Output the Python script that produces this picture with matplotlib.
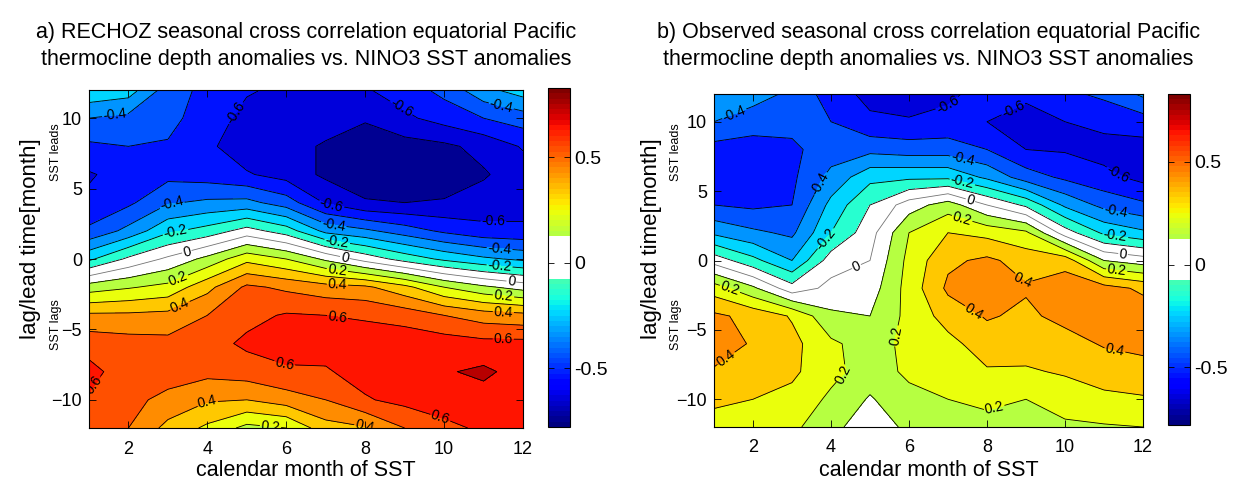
import numpy as np
import matplotlib
matplotlib.use('Agg')
import matplotlib.pyplot as plt
from matplotlib.colors import ListedColormap, Normalize
from matplotlib.cm import ScalarMappable

plt.rcParams['font.family'] = ['Liberation Sans', 'DejaVu Sans']
plt.rcParams['contour.negative_linestyle'] = 'solid'

months = np.arange(1, 13)
lags = np.array([12, 10, 8, 6, 4, 2, 0, -2, -4, -6, -8, -10, -12])

# rows follow lags, columns follow months 1..12
corr_rechoz = [
    [-0.22, -0.25, -0.45, -0.53, -0.59, -0.62, -0.63, -0.61, -0.55, -0.47, -0.33, -0.25],
    [-0.40, -0.43, -0.47, -0.55, -0.63, -0.65, -0.66, -0.69, -0.62, -0.56, -0.50, -0.45],
    [-0.52, -0.50, -0.51, -0.58, -0.66, -0.67, -0.71, -0.75, -0.74, -0.72, -0.67, -0.59],
    [-0.61, -0.56, -0.53, -0.55, -0.59, -0.64, -0.72, -0.76, -0.77, -0.76, -0.71, -0.65],
    [-0.58, -0.52, -0.41, -0.38, -0.37, -0.45, -0.61, -0.69, -0.70, -0.69, -0.66, -0.64],
    [-0.48, -0.37, -0.22, -0.16, -0.06, -0.15, -0.33, -0.38, -0.45, -0.52, -0.57, -0.58],
    [-0.22, -0.08, 0.02, 0.13, 0.27, 0.20, 0.08, -0.04, -0.14, -0.22, -0.28, -0.32],
    [0.15, 0.19, 0.23, 0.37, 0.52, 0.48, 0.44, 0.42, 0.33, 0.20, 0.12, 0.06],
    [0.42, 0.42, 0.43, 0.50, 0.57, 0.61, 0.60, 0.59, 0.56, 0.50, 0.45, 0.43],
    [0.56, 0.54, 0.53, 0.56, 0.62, 0.63, 0.64, 0.64, 0.66, 0.65, 0.63, 0.63],
    [0.63, 0.55, 0.55, 0.53, 0.55, 0.59, 0.59, 0.64, 0.66, 0.69, 0.72, 0.66],
    [0.59, 0.53, 0.47, 0.41, 0.40, 0.45, 0.50, 0.59, 0.63, 0.66, 0.66, 0.64],
    [0.55, 0.50, 0.37, 0.28, 0.17, 0.20, 0.36, 0.39, 0.50, 0.57, 0.62, 0.62],
]

corr_observed = [
    [-0.35, -0.36, -0.42, -0.55, -0.63, -0.65, -0.62, -0.56, -0.57, -0.52, -0.48, -0.38],
    [-0.40, -0.45, -0.47, -0.50, -0.58, -0.59, -0.57, -0.60, -0.66, -0.60, -0.57, -0.55],
    [-0.54, -0.55, -0.52, -0.45, -0.43, -0.45, -0.45, -0.50, -0.60, -0.61, -0.64, -0.64],
    [-0.56, -0.56, -0.52, -0.37, -0.23, -0.22, -0.22, -0.32, -0.45, -0.52, -0.57, -0.63],
    [-0.50, -0.52, -0.50, -0.27, -0.10, 0.05, 0.15, 0.00, -0.12, -0.32, -0.43, -0.48],
    [-0.32, -0.38, -0.42, -0.20, -0.04, 0.20, 0.30, 0.27, 0.22, -0.05, -0.22, -0.28],
    [-0.04, -0.17, -0.30, -0.05, 0.00, 0.23, 0.38, 0.42, 0.36, 0.36, 0.10, 0.05],
    [0.25, 0.12, -0.06, 0.03, 0.05, 0.24, 0.42, 0.46, 0.41, 0.46, 0.44, 0.38],
    [0.42, 0.37, 0.29, 0.12, 0.10, 0.23, 0.34, 0.41, 0.38, 0.43, 0.47, 0.46],
    [0.45, 0.39, 0.33, 0.22, 0.15, 0.23, 0.27, 0.35, 0.34, 0.36, 0.41, 0.43],
    [0.39, 0.36, 0.32, 0.23, 0.15, 0.22, 0.24, 0.29, 0.29, 0.31, 0.34, 0.36],
    [0.32, 0.30, 0.27, 0.18, 0.09, 0.17, 0.20, 0.22, 0.20, 0.25, 0.28, 0.29],
    [0.26, 0.25, 0.22, 0.14, 0.02, 0.13, 0.17, 0.17, 0.17, 0.18, 0.19, 0.20],
]

levels = np.round(np.linspace(-0.8, 0.8, 17), 2)
label_levels = np.round(np.linspace(-0.6, 0.6, 7), 2)
plain_levels = np.array([v for v in levels if not np.any(np.isclose(v, label_levels))])
titles = [
    'a) RECHOZ seasonal cross correlation equatorial Pacific\nthermocline depth anomalies vs. NINO3 SST anomalies',
    'b) Observed seasonal cross correlation equatorial Pacific\nthermocline depth anomalies vs. NINO3 SST anomalies',
]

# rough spots (month, lag) where the matlab figure put its inline labels
label_spots = [
    [(1.7, 9.2), (4.9, 10.0), (8.8, 10.2), (11.4, 10.3), (3.1, 3.8), (7.15, 3.95),
     (11.25, 2.3), (3.2, 1.8), (7.2, 2.4), (7.3, 1.4), (3.5, 0.3), (7.5, 0.35),
     (11.4, 0.5), (11.4, -0.7), (11.7, -1.7), (3.3, -1.7), (7.3, -0.65),
     (7.3, -1.7), (11.5, -2.8), (11.5, -3.9), (3.35, -3.6), (7.3, -4.1),
     (11.5, -5.6), (5.9, -7.9), (1.2, -9.1), (4.0, -10.1), (9.9, -11.3),
     (8.0, -11.7), (5.6, -11.9)],
    [(1.6, 10.0), (7.1, 10.75), (8.7, 10.75), (3.7, 5.6), (7.35, 7.0), (11.3, 6.0),
     (7.35, 5.45), (7.55, 4.1), (7.35, 2.9), (3.9, 1.5), (11.3, 3.5), (11.3, 2.0),
     (11.5, 0.75), (11.35, -0.1), (4.75, -1.05), (1.4, -2.1), (8.75, -2.0),
     (7.6, -3.95), (5.6, -5.4), (11.3, -6.2), (1.35, -7.2), (4.3, -8.15),
     (8.25, -11.3)],
]

# jet with the band around zero blanked out, like the matlab figure
jet = plt.get_cmap('jet', 64)
cols = jet(np.arange(64))
cols[28:36] = [1, 1, 1, 1]
cmap = ListedColormap(cols)


def fmt(v):
    if abs(v) < 1e-9:
        return '0'
    return '%g' % v


fig = plt.figure(figsize=(12.37, 4.87), dpi=100)

W, H = 1237.0, 487.0
boxes = [(89, 90, 523, 428), (714, 94, 1143, 427)]
cboxes = [(548, 88, 570, 427), (1168, 94, 1190, 425)]
ylab_x = [31, 651]
side_x = [56, 676]

for i, data in enumerate([corr_rechoz, corr_observed]):
    norm = Normalize(vmin=-0.78, vmax=0.83)
    l, t, r, b = boxes[i]
    ax = fig.add_axes([l / W, 1 - b / H, (r - l) / W, (b - t) / H])
    Z = np.array(data)
    ax.contourf(months, lags, Z, levels=levels, cmap=cmap, norm=norm)
    ax.contour(months, lags, Z, levels=plain_levels, colors='k', linewidths=0.6,
               linestyles='solid')
    lc = ['0.45' if abs(v) < 1e-9 else 'k' for v in label_levels]
    cs = ax.contour(months, lags, Z, levels=label_levels, colors=lc, linewidths=0.6,
                    linestyles='solid')
    ax.clabel(cs, fmt=fmt, fontsize=10, inline=True, inline_spacing=1,
              colors='k', manual=label_spots[i])
    ax.set_xlim(1, 12)
    ax.set_ylim(-12, 12)
    ax.set_xticks(np.arange(2, 13, 2))
    ax.set_yticks([-10, -5, 0, 5, 10])
    ax.tick_params(direction='in', top=True, right=True, length=5, width=0.6,
                   labelsize=13)
    ax.tick_params(axis='x', pad=9)
    ax.tick_params(axis='y', pad=5)
    for s in ax.spines.values():
        s.set_linewidth(0.8)
    ax.set_xlabel('calendar month of SST', fontsize=15.5)
    ax.xaxis.set_label_coords(0.5, (b - 460) / (b - t))
    ax.set_ylabel('lag/lead time[month]', fontsize=16, va='center')
    ax.yaxis.set_label_coords((ylab_x[i] - l) / (r - l), (b - 239) / (b - t))
    ax.text((side_x[i] - l) / (r - l), (b - 152) / (b - t), 'SST leads',
            rotation=90, ha='center', va='center', fontsize=9,
            transform=ax.transAxes)
    ax.text((side_x[i] - l) / (r - l), (b - 325) / (b - t), 'SST lags',
            rotation=90, ha='center', va='center', fontsize=9,
            transform=ax.transAxes)
    ax.text(0.5, (b - 70) / (b - t), titles[i], ha='center', va='bottom',
            fontsize=15.5, linespacing=1.4, transform=ax.transAxes)

    cl, ct, cr, cb_ = cboxes[i]
    cax = fig.add_axes([cl / W, 1 - cb_ / H, (cr - cl) / W, (cb_ - ct) / H])
    cbar = fig.colorbar(ScalarMappable(norm=norm, cmap=cmap), cax=cax)
    cbar.set_ticks([-0.5, 0, 0.5])
    cbar.set_ticklabels(['-0.5', '0', '0.5'])
    cbar.outline.set_linewidth(0.8)
    cax.tick_params(direction='in', left=True, right=True, length=4, width=0.6,
                    labelsize=14, pad=3)

fig.savefig('out.png', dpi=100)
